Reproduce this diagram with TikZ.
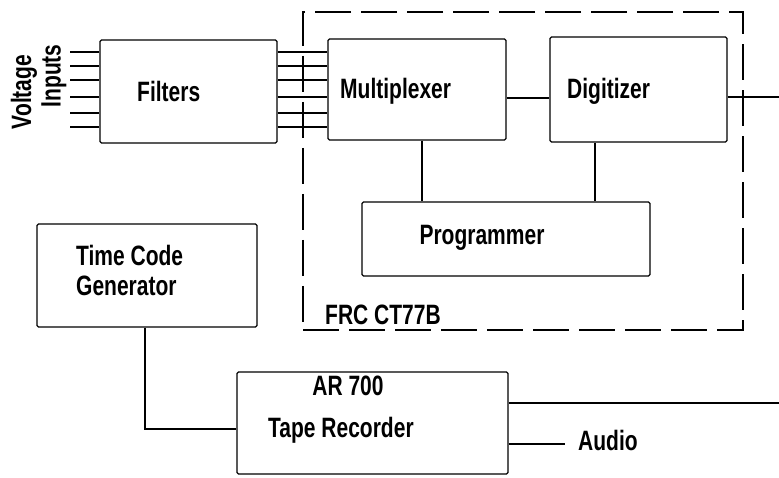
\documentclass[tikz,border=0pt]{standalone}
\usepackage{fontspec}
\setmainfont{Liberation Sans}[FakeStretch=0.75]
\begin{document}
\begin{tikzpicture}[x=1pt,y=-1pt,
  blk/.style={draw,line width=1.2pt,rounded corners=1.5pt,inner sep=0pt},
  lab/.style={font=\fontsize{28}{30}\selectfont\bfseries,inner sep=0pt},
  wire/.style={line width=1.2pt},
  frame/.style={line width=1.2pt,dash pattern=on 36pt off 10pt}]
\useasboundingbox (0,0) rectangle (779,478);
% blocks
\node[blk,minimum width=177pt,minimum height=103pt] (fil) at (188.5,91.5) {};
\node[blk,minimum width=178pt,minimum height=101pt] (mux) at (417,89.5) {};
\node[blk,minimum width=177pt,minimum height=105pt] (dig) at (638.5,89.5) {};
\node[blk,minimum width=288pt,minimum height=74pt] (prg) at (506,239) {};
\node[blk,minimum width=220pt,minimum height=103pt] (tcg) at (147,275.5) {};
\node[blk,minimum width=271pt,minimum height=102pt] (tap) at (372.5,423) {};
% texts
\node[lab,anchor=west] (tfil) at (137,91) {Filters};
\node[lab,anchor=west] (tmux) at (340,91) {Multiplexer};
\node[lab,anchor=west] (tdig) at (567,91) {Digitizer};
\node[lab] (tprg) at (482,238) {Programmer};
\node[lab,anchor=west,align=left] (ttcg) at (76,270) {Time Code\\Generator};
\node[lab] (tar) at (348,386) {AR 700};
\node[lab,anchor=west] (ttap) at (268,430) {Tape Recorder};
\node[lab,anchor=west] (tfrc) at (325,315) {FRC CT77B};
\node[lab,anchor=west] (taud) at (578,440) {Audio};
\node[lab,rotate=90] (tvol) at (24,92) {Voltage};
\node[lab,rotate=90] (tinp) at (54,76) {Inputs};
% dashed frame
\node[frame,draw,minimum width=440pt,minimum height=318pt,inner sep=0pt] (frc) at (523,171) {};
% input and filter-to-mux lines
\foreach \yy in {52,66,80,97,113,127} {
  \coordinate (in\yy) at (70,\yy);
  \draw[wire] (in\yy) -- (fil.west |- in\yy);
  \draw[wire] (fil.east |- in\yy) -- (mux.west |- in\yy);
}
% connectors
\draw[wire] (mux.east |- 0,98) -- (dig.west |- 0,98);
\coordinate (dout) at (779,97);
\draw[wire] (dig.east |- dout) -- (dout);
\draw[wire] (mux.south -| 422,0) -- (prg.north -| 422,0);
\draw[wire] (dig.south -| 595,0) -- (prg.north -| 595,0);
\draw[wire] (tcg.south -| 145,0) |- (tap.west |- 0,429);
\coordinate (tout) at (779,403);
\draw[wire] (tap.east |- tout) -- (tout);
\coordinate (aout) at (565,444);
\draw[wire] (tap.east |- aout) -- (aout);
\end{tikzpicture}
\end{document}
